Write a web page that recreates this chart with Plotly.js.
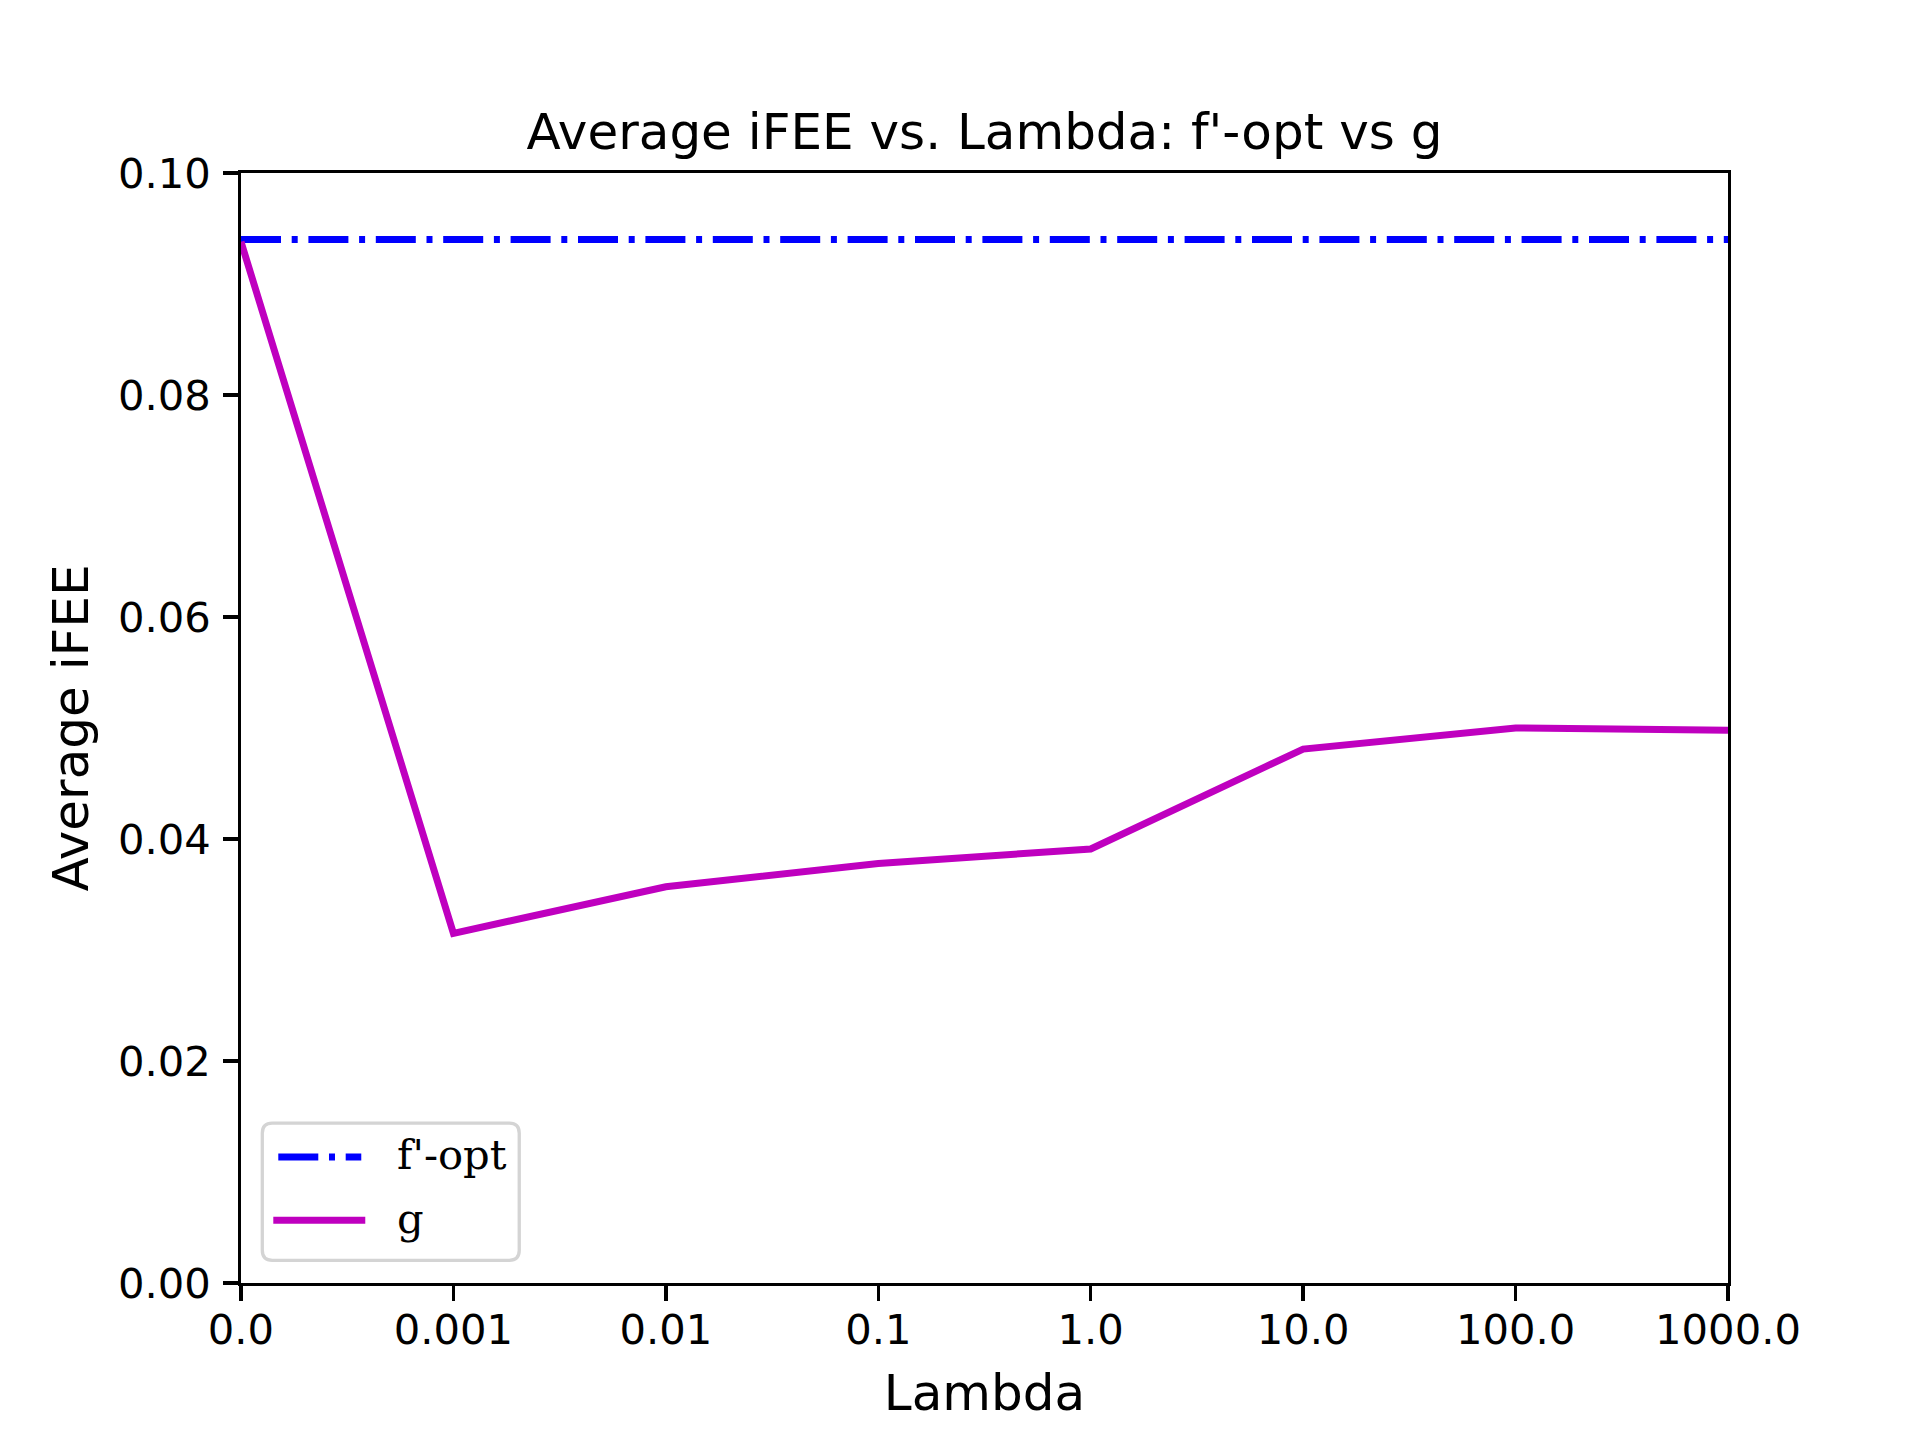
<!DOCTYPE html>
<html>
<head>
<meta charset="utf-8">
<script src="https://cdn.plot.ly/plotly-3.0.1.min.js"></script>
<style>
  html, body { margin: 0; padding: 0; background: #fff; }
  #grafica { width: 1920px; height: 1440px; }
</style>
</head>
<body>
<div id="grafica"></div>
<script>
// datos
const lambdas = ['0.0', '0.001', '0.01', '0.1', '1.0', '10.0', '100.0', '1000.0'];
const fOpt = [0.0940, 0.0940, 0.0940, 0.0940, 0.0940, 0.0940, 0.0940, 0.0940];
const g = [0.0938, 0.0315, 0.0357, 0.0378, 0.0391, 0.0481, 0.0500, 0.0498];
const yTicks = [0, 0.02, 0.04, 0.06, 0.08, 0.10];
const nombres = ["f'-opt", 'g'];

const W = 1920, H = 1440;
const izq = 240.7, der = 1728, arriba = 173.3, abajo = 1282.7;
const azul = '#0000ff', magenta = '#bf00bf';
const guionPunto = '40px,10.7px,6px,10.7px';
const grosor = 7;

// pixeles -> coordenadas paper
function px(x) { return (x - izq) / (der - izq); }
function py(y) { return (abajo - y) / (abajo - arriba); }

const trazas = [
  {x: lambdas, y: fOpt, name: nombres[0], mode: 'lines',
   line: {color: azul, width: grosor, dash: guionPunto}},
  {x: lambdas, y: g, name: nombres[1], mode: 'lines',
   line: {color: magenta, width: grosor}}
];

// leyenda dibujada a mano (caja redondeada, muestras y textos)
const caja = {x0: 262, x1: 519, y0: 1123, y1: 1260, r: 10};
function cajaRedondeada(c) {
  const r = c.r;
  const pts = [
    'M', px(c.x0 + r), py(c.y0),
    'L', px(c.x1 - r), py(c.y0),
    'Q', px(c.x1), py(c.y0), px(c.x1), py(c.y0 + r),
    'L', px(c.x1), py(c.y1 - r),
    'Q', px(c.x1), py(c.y1), px(c.x1 - r), py(c.y1),
    'L', px(c.x0 + r), py(c.y1),
    'Q', px(c.x0), py(c.y1), px(c.x0), py(c.y1 - r),
    'L', px(c.x0), py(c.y0 + r),
    'Q', px(c.x0), py(c.y0), px(c.x0 + r), py(c.y0), 'Z'
  ];
  return pts.join(' ');
}
const filasLeyenda = [1156.7, 1220];
const formas = [{
  type: 'path', xref: 'paper', yref: 'paper', path: cajaRedondeada(caja),
  line: {color: '#d4d4d4', width: 3.3}, fillcolor: 'rgba(255,255,255,0.8)'
}];
const notas = [];
trazas.forEach(function (t, i) {
  formas.push({
    type: 'line', xref: 'paper', yref: 'paper',
    x0: px(t.line.dash ? 278 : 273), x1: px(t.line.dash ? 361 : 365),
    y0: py(filasLeyenda[i]), y1: py(filasLeyenda[i]),
    line: {color: t.line.color, width: grosor, dash: t.line.dash || 'solid'}
  });
  notas.push({
    xref: 'paper', yref: 'paper', x: px(395), y: py(filasLeyenda[i] - 2),
    xanchor: 'left', yanchor: 'middle', showarrow: false, text: t.name,
    font: {family: 'DejaVu Serif', size: 41.7, color: '#000'}
  });
});

const ejeComun = {
  showline: true, mirror: true, linecolor: '#000', linewidth: 3.3,
  ticks: 'outside', ticklen: 14.6, tickwidth: 3.3, tickcolor: '#000',
  showgrid: false, zeroline: false,
  tickfont: {family: 'DejaVu Sans', size: 41.7, color: '#000'}
};

const layout = {
  width: W, height: H,
  margin: {l: izq, r: W - der, t: arriba, b: H - abajo, pad: 0},
  paper_bgcolor: '#fff', plot_bgcolor: '#fff',
  showlegend: false,
  title: {
    text: "Average iFEE vs. Lambda: f'-opt vs g",
    font: {family: 'DejaVu Sans', size: 50, color: '#000'},
    x: 0.5, xref: 'paper', y: 1 - 131 / H, yref: 'container', yanchor: 'middle'
  },
  xaxis: Object.assign({}, ejeComun, {
    type: 'category', range: [0, lambdas.length - 1],
    tickvals: lambdas, ticktext: lambdas, ticklabelstandoff: -7,
    title: {text: 'Lambda', standoff: 23,
            font: {family: 'DejaVu Sans', size: 50, color: '#000'}}
  }),
  yaxis: Object.assign({}, ejeComun, {
    range: [0, 0.1], tickvals: yTicks, tickformat: '.2f', ticklabelstandoff: 4,
    title: {text: 'Average iFEE', standoff: 14,
            font: {family: 'DejaVu Sans', size: 50, color: '#000'}}
  }),
  shapes: formas,
  annotations: notas
};

Plotly.newPlot('grafica', trazas, layout, {staticPlot: true, displayModeBar: false});
</script>
</body>
</html>
